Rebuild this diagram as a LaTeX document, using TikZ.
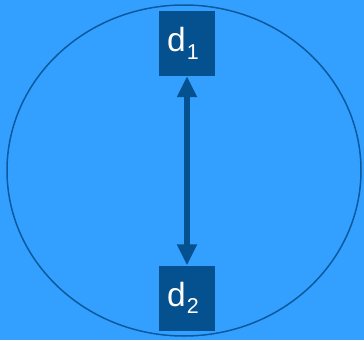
\documentclass[tikz,border=0pt]{standalone}
\usepackage{fontspec}
\setmainfont{Liberation Sans}
\setsansfont{Liberation Sans}
\usetikzlibrary{arrows.meta}
\definecolor{bgblue}{HTML}{33A0FF}
\definecolor{boxblue}{HTML}{05508F}
\definecolor{rimblue}{HTML}{0B5A9E}
\newcommand{\dlabel}[1]{\fontsize{33.5}{33.5}\selectfont d\kern1pt\raisebox{-7.3pt}{\fontsize{21.5}{21.5}\selectfont #1}\kern8pt}
\tikzset{
  dbox/.style={fill=boxblue, text=white, minimum width=56pt, minimum height=65pt, inner sep=0pt},
  link/.style={draw=boxblue, line width=6pt, {Triangle[length=21pt,width=19pt]}-{Triangle[length=21pt,width=19pt]}}
}
\begin{document}
\begin{tikzpicture}[x=1pt,y=-1pt]
  \fill[bgblue] (0,0) rectangle (364,340);
  \useasboundingbox (0,0) rectangle (364,340);
  \draw[rimblue, line width=1.5pt] (184,170.5) ellipse [x radius=177, y radius=165.5];
  \node[dbox] (d1) at (187,43.5) {\dlabel{1}};
  \node[dbox] (d2) at (187,298) {\dlabel{2}};
  \draw[link] (d1.south) -- (d2.north);
\end{tikzpicture}
\end{document}
